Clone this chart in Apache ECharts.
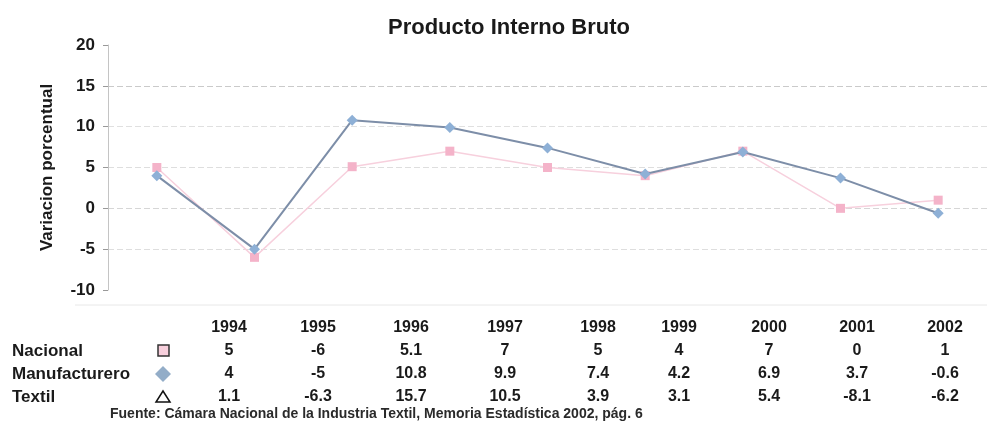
<!DOCTYPE html>
<html>
<head>
<meta charset="utf-8">
<script src="https://cdn.jsdelivr.net/npm/echarts@6/dist/echarts.min.js"></script>
<style>
    html, body {margin: 0; padding: 0; background: #fff;}
    #chart {width: 987px; height: 432px;}
</style>
</head>
<body>
<div id="chart"></div>
<script>
/**datos*/
const years = ['1994', '1995', '1996', '1997', '1998', '1999', '2000', '2001', '2002'];
const nacional = [5, -6, 5.1, 7, 5, 4, 7, 0, 1];
const manufacturero = [4, -5, 10.8, 9.9, 7.4, 4.2, 6.9, 3.7, -0.6];
const textil = [1.1, -6.3, 15.7, 10.5, 3.9, 3.1, 5.4, -8.1, -6.2];
const seriesNames = ['Nacional', 'Manufacturero', 'Textil'];
const titulo = 'Producto Interno Bruto';
const ejeY = 'Variacion porcentual';
const fuente = 'Fuente: Cámara Nacional de la Industria Textil, Memoria Estadística 2002, pág. 6';

const font = 'Liberation Sans, Arial, sans-serif';
const pink = '#f4b3c9';
const blue = '#8eb0d6';

// columnas de la tabla (no alineadas con el grafico en el original)
const colX = [229, 318, 411, 505, 598, 679, 769, 857, 945];
const rowY = [328, 351, 374, 397];

let chart = echarts.init(document.getElementById('chart'));

/**tabla de datos debajo del grafico*/
function buildTable() {
    let els = [];
    let txt = (x, y, s, size, align) => ({
        type: 'text', x: x, y: y,
        style: {text: s, font: 'bold ' + size + 'px ' + font, fill: '#1a1a1a', align: align || 'center', verticalAlign: 'middle'}
    });
    years.forEach((y, i) => els.push(txt(colX[i], rowY[0], y, 16)));
    [nacional, manufacturero, textil].forEach((arr, r) => {
        els.push(txt(12, rowY[r + 1], seriesNames[r], 17, 'left'));
        arr.forEach((v, i) => els.push(txt(colX[i], rowY[r + 1], String(v), 16)));
    });
    // simbolos de la leyenda
    els.push({type: 'rect', shape: {x: 158, y: rowY[1] - 6, width: 11, height: 11},
        style: {fill: '#f7cfdc', stroke: '#333', lineWidth: 1.5}});
    els.push({type: 'polygon', shape: {points: [[163, rowY[2] - 8], [171, rowY[2]], [163, rowY[2] + 8], [155, rowY[2]]]},
        style: {fill: '#93adc8'}});
    els.push({type: 'polygon', shape: {points: [[163, rowY[3] - 6], [170, rowY[3] + 5], [156, rowY[3] + 5]]},
        style: {fill: 'none', stroke: '#111', lineWidth: 1.5}});
    els.push({type: 'text', x: 110, y: 414,
        style: {text: fuente, font: 'bold 14px ' + font, fill: '#2a2a2a', align: 'left', verticalAlign: 'middle'}});
    // linea tenue arriba de la tabla
    els.push({type: 'line', shape: {x1: 75, y1: 305, x2: 987, y2: 305},
        style: {stroke: '#e8e8e8', lineWidth: 1}});
    return els;
}

chart.setOption({
    animation: false,
    backgroundColor: '#fff',
    title: {
        text: titulo, left: 504, top: 12, textAlign: 'center',
        textStyle: {fontFamily: font, fontSize: 22, fontWeight: 'bold', color: '#1a1a1a'}
    },
    grid: {left: 108, right: 0, top: 45, bottom: 142},
    xAxis: {
        type: 'category', data: years, boundaryGap: true,
        axisLine: {show: false}, axisTick: {show: false}, axisLabel: {show: false}
    },
    yAxis: {
        type: 'value', min: -10, max: 20, interval: 5,
        name: ejeY, nameLocation: 'middle', nameGap: 52, nameRotate: 90,
        nameTextStyle: {fontFamily: font, fontSize: 17, fontWeight: 'bold', color: '#1a1a1a'},
        axisLine: {show: true, lineStyle: {color: '#c4c4c4', width: 1}},
        axisTick: {show: true, length: 5, lineStyle: {color: '#999'}},
        axisLabel: {margin: 13, fontFamily: font, fontSize: 17, fontWeight: 'bold', color: '#1a1a1a'},
        splitLine: {show: true, lineStyle: {
            color: ['transparent', '#dedede', '#d6d6d6', '#dedede', '#e0e0e0', '#cacaca', 'transparent'],
            type: [6, 3], width: 1
        }}
    },
    series: [{
        name: seriesNames[0], type: 'line', data: nacional,
        symbol: 'rect', symbolSize: 9,
        lineStyle: {color: '#f7d0dd', width: 1.5},
        itemStyle: {color: pink},
        z: 2
    }, {
        name: seriesNames[1], type: 'line', data: manufacturero,
        symbol: 'diamond', symbolSize: 11,
        lineStyle: {color: '#7d8ea8', width: 2},
        itemStyle: {color: blue},
        z: 3
    }],
    graphic: buildTable()
});
</script>
</body>
</html>
